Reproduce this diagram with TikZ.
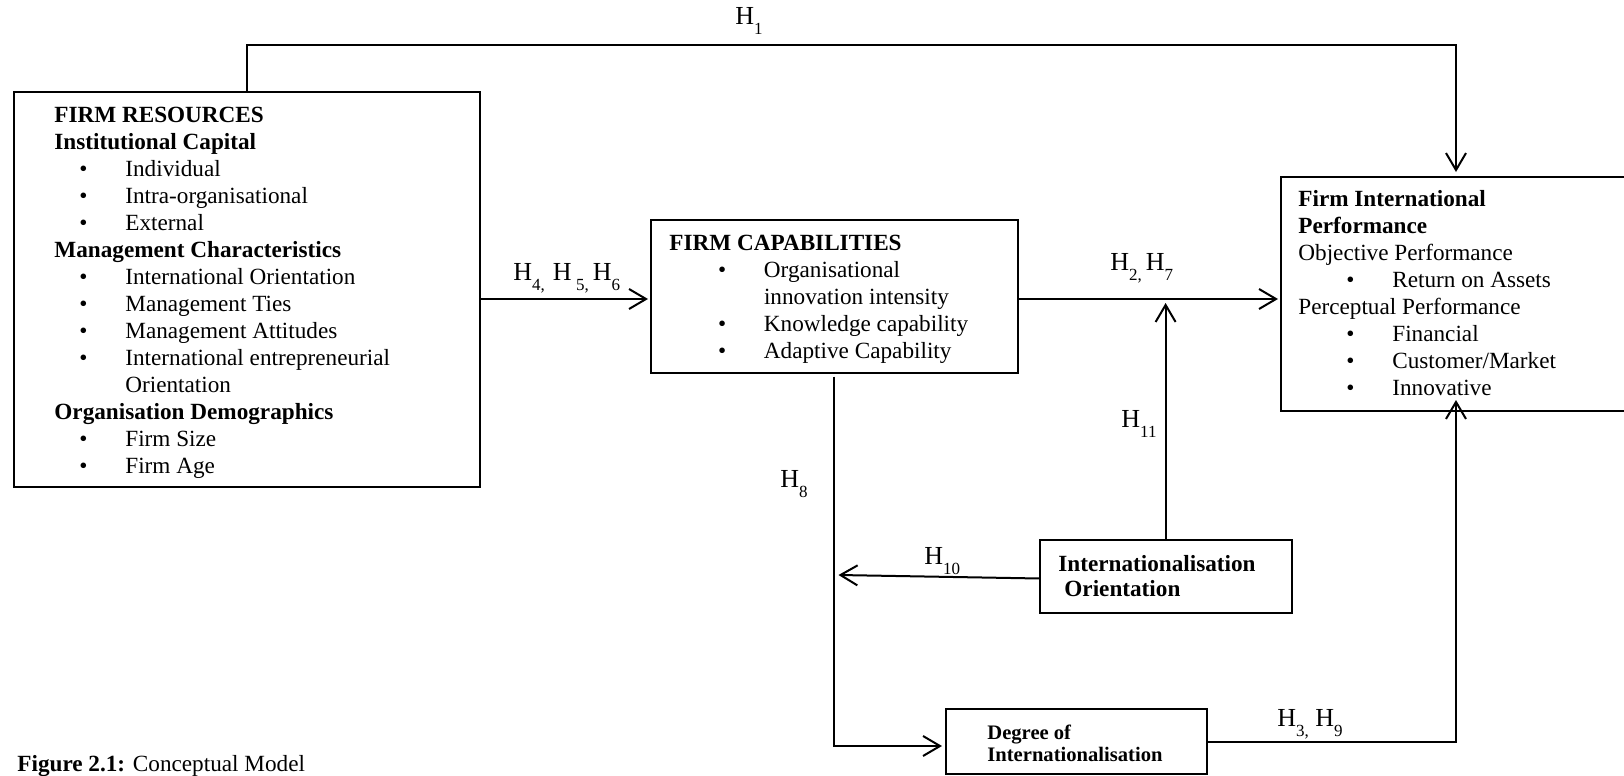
\documentclass[tikz,border=0pt]{standalone}
\usepackage{fontspec}
\setmainfont{Liberation Serif}
\usetikzlibrary{arrows.meta}
% hypothesis subscript, set low as in a word-processor subscript
\newcommand\hsub[1]{\raisebox{-5pt}{\fontsize{8.5}{9}\selectfont #1}}
% bulleted line: indent, bullet column width, item text
\newcommand\bul[3]{\hspace*{#1}\makebox[#2][l]{•}#3}
\begin{document}
\begin{tikzpicture}[x=0.5pt,y=-0.5pt,
  box/.style={draw, line width=1pt, rectangle, inner sep=0pt, outer sep=0pt, anchor=north west},
  txt/.style={inner sep=0pt, anchor=base west, font=\fontsize{11.6}{13.5}\selectfont},
  hlab/.style={inner sep=0pt, anchor=base west, font=\fontsize{13}{15}\selectfont},
  arr/.style={line width=1pt, -{Straight Barb[length=8.5pt,width=10pt]}},
  conn/.style={line width=1pt}]

\clip (0,0) rectangle (1624,776);

% boxes
\node[box, minimum width=233pt, minimum height=197.5pt] (res) at (13.5,92) {};
\node[box, minimum width=183.25pt, minimum height=76.5pt] (fc) at (651,219.5) {};
\node[box, minimum width=175pt, minimum height=117pt] (fip) at (1281,177) {};
\node[box, minimum width=126pt, minimum height=36.5pt] (io) at (1039.6,540) {};
\node[box, minimum width=130.5pt, minimum height=32.5pt] (deg) at (946,709) {};

% box contents
\node[txt] (restext) at (54,122.7) {\parbox[t]{220pt}{%
\textbf{FIRM RESOURCES}\\
\textbf{Institutional Capital}\\
\bul{12.5pt}{23pt}{Individual}\\
\bul{12.5pt}{23pt}{Intra-organisational}\\
\bul{12.5pt}{23pt}{External}\\
\textbf{Management Characteristics}\\
\bul{12.5pt}{23pt}{International Orientation}\\
\bul{12.5pt}{23pt}{Management Ties}\\
\bul{12.5pt}{23pt}{Management Attitudes}\\
\bul{12.5pt}{23pt}{International entrepreneurial}\\
\hspace*{35.5pt}Orientation\\
\textbf{Organisation Demographics}\\
\bul{12.5pt}{23pt}{Firm Size}\\
\bul{12.5pt}{23pt}{Firm Age}}};

\node[txt] (fctext) at (669,250) {\parbox[t]{170pt}{%
\textbf{FIRM CAPABILITIES}\\
\bul{24.3pt}{23pt}{Organisational}\\
\hspace*{47.3pt}innovation intensity\\
\bul{24.3pt}{23pt}{Knowledge capability}\\
\bul{24.3pt}{23pt}{Adaptive Capability}}};

\node[txt] (fiptext) at (1298,206) {\parbox[t]{160pt}{%
\textbf{Firm International}\\
\textbf{Performance}\\
Objective Performance\\
\bul{24pt}{23pt}{Return on Assets}\\
Perceptual Performance\\
\bul{24pt}{23pt}{Financial}\\
\bul{24pt}{23pt}{Customer/Market}\\
\bul{24pt}{23pt}{Innovative}}};

\node[txt, font=\fontsize{11.6}{12.5}\selectfont\bfseries] (iotext) at (1058,571.7) {\parbox[t]{115pt}{%
Internationalisation\\
\hspace*{3pt}Orientation}};

\node[txt, font=\fontsize{10.3}{11}\selectfont\bfseries] (degtext) at (987,739) {\parbox[t]{115pt}{%
Degree of\\
Internationalisation}};

% connectors
\coordinate (toprow) at (0,44.5);
\coordinate (rowA) at (0,299);
\coordinate (rowB) at (0,746);
\coordinate (h10tip) at (838.5,575);

\draw[arr, shorten >=2.5pt] (res.north) |- (toprow -| fip.north) -- (fip.north);
\draw[arr, shorten >=1.5pt] (res.east |- rowA) -- (fc.west |- rowA);
\draw[arr, shorten >=1.5pt] (fc.east |- rowA) -- (fip.west |- rowA);
\draw[arr, shorten >=2pt] (io.north) -- (io.north |- rowA);
\draw[arr] ([yshift=-1pt]io.west) -- (h10tip);
\draw[arr, shorten <=2pt, shorten >=2pt] (fc.south) |- (deg.west |- rowB);
\draw[arr, shorten >=-5.5pt] (deg.east) -| (fip.south);

% hypothesis labels
\node[hlab] (h1) at (735,25) {H\hsub{1}};
\node[hlab] (h456) at (513,280) {H\hsub{4,}\hspace{4pt}H\,\hsub{5,}\hspace{2pt}H\hsub{6}};
\node[hlab] (h27) at (1110,270) {H\hsub{2,}\hspace{2pt}H\hsub{7}};
\node[hlab] (h11) at (1121,427) {H\hsub{11}};
\node[hlab] (h8) at (780,487) {H\hsub{8}};
\node[hlab] (h10) at (924,564) {H\hsub{10}};
\node[hlab] (h39) at (1277,726) {H\hsub{3,} H\hsub{9}};

% caption
\node[txt] (caption) at (17,771) {\textbf{Figure 2.1:} Conceptual Model};
\end{tikzpicture}
\end{document}
